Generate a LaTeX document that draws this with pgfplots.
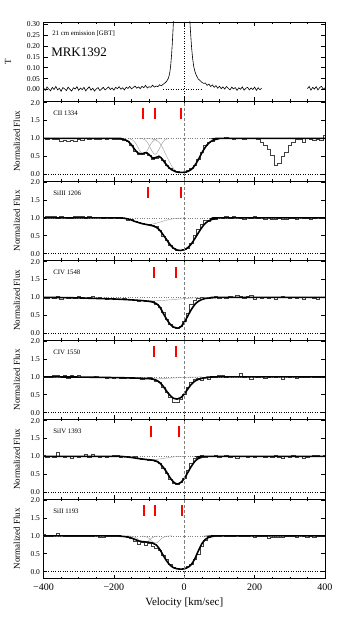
\documentclass[border=0pt]{standalone}
\usepackage{fontspec}
\setmainfont{Liberation Serif}
\usepackage{pgfplots}
\pgfplotsset{compat=1.18}

\pgfplotsset{
  panel/.style={
    scale only axis, width=281.5pt, height=79.5pt, anchor=south west,
    xmin=-400, xmax=400, xtick={-400,-200,0,200,400}, minor x tick num=3,
    xticklabels={},
    ymin=-0.19, ymax=2.03, ytick={0,0.5,1,1.5,2},
    /pgf/number format/assume math mode=true,
    yticklabel style={font=\fontsize{7.5}{8}\selectfont,
      /pgf/number format/.cd, fixed, fixed zerofill, precision=1},
    xticklabel style={font=\fontsize{10}{11}\selectfont, yshift=-2pt},
    axis line style={line width=0.8pt},
    tick style={line width=0.6pt, black},
    major tick length=4pt, minor tick length=2pt,
    ylabel={Normalized Flux},
    ylabel style={at={(axis description cs:-0.095,0.5)}, anchor=center,
      font=\fontsize{9}{10}\selectfont},
  },
  hist/.style={const plot mark mid, black!75, line width=0.45pt},
  model/.style={black, line width=1.6pt, smooth},
  comp/.style={gray!80, line width=0.4pt, smooth},
  vmark/.style={red, line width=2pt},
  zline/.style={gray, line width=0.5pt, dash pattern=on 3pt off 2pt},
}
\tikzset{lbl/.style={anchor=west, font=\fontsize{6.8}{7}\selectfont}}

\begin{document}
\begin{tikzpicture}
\useasboundingbox (0,0) rectangle (346pt,623pt);

% ---------------- 21 cm emission
\begin{axis}[panel, at={(43.5pt,521.5pt)},
  ymin=-0.055, ymax=0.31, ytick={0,0.05,0.1,0.15,0.2,0.25,0.3},
  yticklabel style={/pgf/number format/.cd, fixed, fixed zerofill, precision=2},
  ylabel={T}, ylabel style={at={(axis description cs:-0.126,0.5)}}]
\addplot[black, dotted, line width=0.5pt] coordinates {(-60,0) (50,0)};
\addplot[black, dotted, line width=0.5pt] coordinates {(0,-0.055) (0,0.31)};
\addplot[black, line width=0.6pt] coordinates {
(-400,0.008) (-395,-0.004) (-390,0.012) (-385,0.002) (-380,-0.006) (-375,0.010)
(-370,0.000) (-365,0.014) (-360,-0.002) (-355,0.006) (-350,-0.008) (-345,0.009)
(-340,0.003) (-335,-0.005) (-330,0.011) (-325,0.001) (-320,-0.007) (-315,0.008)
(-310,0.002) (-305,0.013) (-300,-0.004) (-295,0.007) (-290,-0.001) (-285,0.010)
(-280,-0.006) (-275,0.004) (-270,0.012) (-265,-0.003) (-260,0.006) (-255,-0.007)
(-250,0.003) (-245,0.009) (-240,-0.005) (-235,0.002) (-230,0.010) (-225,-0.002)
(-220,0.005) (-215,0.012) (-210,0.000) (-205,0.007) (-200,-0.003) (-195,0.010)
(-190,0.004) (-185,0.013) (-180,0.001) (-175,0.008) (-170,-0.002) (-165,0.011)
(-160,0.005) (-155,0.014) (-150,0.003) (-145,0.009) (-140,0.016) (-135,0.006)
(-130,0.012) (-125,0.004) (-120,0.015) (-115,0.008) (-110,0.019) (-105,0.007)
(-100,0.013) (-95,0.010) (-90,0.020) (-85,0.011) (-80,0.016) (-75,0.013)
(-70,0.022) (-65,0.017) (-60,0.024) (-55,0.030) (-50,0.038) (-45,0.052)
(-42,0.07) (-40,0.09) (-38,0.12) (-36,0.16) (-34,0.21) (-32,0.27) (-30,0.34)
(-25,0.55) (-20,0.80) (-10,1.10) (0,1.10) (8,0.70) (12,0.46) (15,0.34)
(18,0.26) (21,0.19) (24,0.14) (27,0.105) (30,0.085) (33,0.07) (36,0.06) (40,0.048)
(45,0.041) (50,0.033) (55,0.028) (60,0.030) (65,0.019) (70,0.025) (75,0.014)
(80,0.021) (85,0.010) (90,0.018) (95,0.006) (100,0.015) (105,0.004) (110,0.012)
(115,0.002) (120,0.014) (125,0.006) (130,-0.002) (135,0.011) (140,0.003)
(145,0.009) (150,-0.004) (155,0.008) (160,0.001) (165,0.012) (170,-0.003)
(175,0.006) (180,0.010) (185,-0.002) (190,0.007) (195,0.000) (200,0.011)
(205,-0.004) (210,0.008) (215,-0.001) (220,0.006)
};
\addplot[black, line width=0.6pt] coordinates {
(350,0.004) (355,0.014) (360,-0.003) (365,0.010) (370,0.002) (375,0.013)
(380,-0.002) (385,0.009) (390,0.015) (395,0.001) (400,0.008)
};
\node[anchor=west, font=\fontsize{6.8}{7}\selectfont] at (axis cs:-385,0.258) {21 cm emission [GBT]};
\node[anchor=west, font=\fontsize{13}{14}\selectfont] at (axis cs:-388,0.17) {MRK1392};
\end{axis}

% ---------------- CII 1334
\begin{axis}[panel, at={(43.5pt,442pt)}]
\addplot[gray, dotted] coordinates {(-400,1) (400,1)};
\addplot[black, dotted] coordinates {(-400,0) (400,0)};
\addplot[comp] coordinates {(-156,0.99) (-146,0.95) (-136,0.83) (-126,0.65) (-116,0.55) (-106,0.65) (-96,0.83) (-86,0.95) (-76,0.99) (-66,1)};
\addplot[comp] coordinates {(-128,1) (-119,0.99) (-110,0.95) (-101,0.83) (-92,0.65) (-83,0.55) (-74,0.65) (-65,0.83) (-56,0.95) (-47,0.99)};
\addplot[comp] coordinates {(-110,1) (-90,0.98) (-75,0.92) (-65,0.8) (-55,0.6) (-45,0.4) (-35,0.22) (-25,0.1)};
\addplot[hist] coordinates {
(-400,1.00) (-390,0.98) (-380,1.00) (-370,0.99) (-360,0.97) (-350,0.93) (-340,0.95)
(-330,0.92) (-320,0.96) (-310,0.93) (-300,0.98) (-290,0.94) (-280,1.00) (-270,0.97)
(-260,1.01) (-250,0.99) (-240,0.98) (-230,1.00) (-220,0.99) (-210,1.00) (-200,0.99)
(-190,0.99) (-180,0.98) (-170,0.96) (-160,0.91) (-150,0.80) (-140,0.64) (-130,0.56)
(-120,0.55) (-110,0.60) (-100,0.52) (-90,0.42) (-80,0.44) (-70,0.48) (-60,0.40)
(-50,0.26) (-40,0.17) (-30,0.10) (-20,0.07) (-10,0.05) (0,0.06) (10,0.12) (20,0.17)
(30,0.24) (40,0.42) (50,0.62) (60,0.80) (70,0.90) (80,0.93) (90,0.98) (100,1.01)
(110,1.00) (120,1.02) (130,1.00) (140,0.99) (150,1.00) (160,1.00) (170,0.99)
(180,1.00) (190,1.01) (200,1.00) (210,0.98) (220,0.90) (230,0.82) (240,0.70)
(250,0.52) (260,0.26) (270,0.32) (280,0.50) (290,0.62) (300,0.80) (310,0.88)
(320,0.98) (330,0.99) (340,0.90) (350,1.00) (360,0.97) (370,0.96) (380,0.98)
(390,0.95) (400,1.08)
};
\addplot[model] coordinates {
(-400,1) (-200,1) (-180,0.99) (-170,0.97) (-160,0.92) (-150,0.82) (-140,0.68)
(-130,0.58) (-120,0.57) (-110,0.60) (-100,0.55) (-90,0.45) (-80,0.47) (-72,0.50)
(-65,0.45) (-55,0.32) (-45,0.20) (-35,0.12) (-25,0.07) (-15,0.05) (-5,0.05)
(5,0.06) (15,0.10) (25,0.18) (35,0.32) (45,0.50) (55,0.68) (65,0.82) (75,0.91)
(85,0.96) (95,0.985) (110,1) (400,1)
};
\addplot[vmark] coordinates {(-116,1.55) (-116,1.85)};
\addplot[vmark] coordinates {(-83,1.55) (-83,1.85)};
\addplot[vmark] coordinates {(-9,1.55) (-9,1.85)};
\addplot[zline] coordinates {(0,-0.19) (0,2.03)};
\node[lbl] at (axis cs:-382,1.69) {CII 1334};
\end{axis}

% ---------------- SiIII 1206
\begin{axis}[panel, at={(43.5pt,362.5pt)}]
\addplot[gray, dotted] coordinates {(-400,1) (400,1)};
\addplot[black, dotted] coordinates {(-400,0) (400,0)};
\addplot[comp] coordinates {(-200,1) (-170,0.98) (-150,0.93) (-130,0.86) (-104,0.81) (-80,0.85) (-60,0.91) (-40,0.96) (-20,0.985) (0,1)};
\addplot[hist] coordinates {
(-400,1.03) (-390,1.06) (-380,1.05) (-370,1.04) (-360,1.00) (-350,1.04) (-340,1.03)
(-330,0.98) (-320,1.00) (-310,1.05) (-300,1.06) (-290,1.04) (-280,1.00) (-270,1.04)
(-260,1.01) (-250,1.02) (-240,1.02) (-230,1.00) (-220,1.01) (-210,0.99) (-200,1.02)
(-190,1.00) (-180,0.99) (-170,0.99) (-160,0.93) (-150,0.96) (-140,0.91) (-130,0.88)
(-120,0.85) (-110,0.82) (-100,0.82) (-90,0.79) (-80,0.76) (-70,0.66) (-60,0.50)
(-50,0.37) (-40,0.24) (-30,0.15) (-20,0.11) (-10,0.10) (0,0.12) (10,0.16) (20,0.30)
(30,0.52) (40,0.68) (50,0.82) (60,0.94) (70,0.92) (80,1.00) (90,0.96) (100,1.02)
(110,1.00) (120,1.04) (130,0.99) (140,1.04) (150,1.03) (160,1.00) (170,0.96)
(180,1.03) (190,1.00) (200,1.04) (210,0.99) (220,1.03) (230,0.97) (240,1.02)
(250,0.95) (260,0.97) (270,0.99) (280,0.95) (290,0.97) (300,1.00) (310,0.98)
(320,0.95) (330,1.01) (340,0.98) (350,0.99) (360,0.96) (370,0.99) (380,1.02)
(390,0.99) (400,1.00)
};
\addplot[model] coordinates {
(-400,1) (-200,1) (-170,0.99) (-160,0.97) (-150,0.94) (-140,0.90) (-130,0.87)
(-120,0.84) (-110,0.82) (-100,0.80) (-90,0.78) (-80,0.74) (-70,0.66) (-60,0.53)
(-50,0.39) (-40,0.25) (-30,0.15) (-20,0.10) (-10,0.09) (0,0.11) (10,0.17)
(20,0.27) (30,0.42) (40,0.58) (50,0.73) (60,0.85) (70,0.92) (80,0.96) (90,0.985)
(100,1) (400,1)
};
\addplot[vmark] coordinates {(-104,1.55) (-104,1.85)};
\addplot[vmark] coordinates {(-10,1.55) (-10,1.85)};
\addplot[zline] coordinates {(0,-0.19) (0,2.03)};
\node[lbl] at (axis cs:-382,1.69) {SiIII 1206};
\end{axis}

% ---------------- CIV 1548
\begin{axis}[panel, at={(43.5pt,283pt)}]
\addplot[gray, dotted] coordinates {(-400,1) (400,1)};
\addplot[black, dotted] coordinates {(-400,0) (400,0)};
\addplot[comp] coordinates {(-350,0.995) (-300,0.985) (-250,0.97) (-200,0.955) (-150,0.93) (-100,0.91) (-87,0.905) (-60,0.915) (-30,0.94) (0,0.965) (30,0.985) (60,0.995) (100,1)};
\addplot[hist] coordinates {
(-400,0.98) (-390,0.97) (-380,1.00) (-370,0.99) (-360,1.02) (-350,0.96) (-340,1.00)
(-330,0.97) (-320,1.01) (-310,0.99) (-300,1.03) (-290,1.01) (-280,0.97) (-270,1.00)
(-260,1.02) (-250,0.98) (-240,1.01) (-230,0.98) (-220,0.96) (-210,0.98) (-200,0.97)
(-190,0.96) (-180,0.95) (-170,0.97) (-160,0.94) (-150,0.96) (-140,0.93) (-130,0.90)
(-120,0.93) (-110,0.90) (-100,0.89) (-90,0.88) (-80,0.82) (-70,0.72) (-60,0.58)
(-50,0.40) (-40,0.26) (-30,0.17) (-20,0.15) (-10,0.20) (0,0.33) (10,0.55) (20,0.80)
(30,0.92) (40,0.98) (50,1.00) (60,0.97) (70,0.98) (80,1.00) (90,1.02) (100,0.99)
(110,1.00) (120,0.97) (130,1.03) (140,1.00) (150,1.07) (160,1.02) (170,0.99)
(180,1.02) (190,1.05) (200,0.96) (210,1.01) (220,0.99) (230,1.01) (240,0.99)
(250,1.00) (260,0.96) (270,1.00) (280,1.02) (290,1.00) (300,0.98) (310,1.01)
(320,0.99) (330,1.00) (340,0.95) (350,1.00) (360,1.01) (370,0.99) (380,0.95)
(390,1.00) (400,1.00)
};
\addplot[model] coordinates {
(-400,1) (-350,0.995) (-300,0.985) (-250,0.97) (-200,0.955) (-150,0.93)
(-120,0.91) (-100,0.89) (-90,0.87) (-80,0.83) (-70,0.74) (-60,0.56) (-50,0.39)
(-40,0.25) (-30,0.17) (-20,0.14) (-10,0.18) (0,0.30) (10,0.48) (20,0.66)
(30,0.80) (40,0.89) (50,0.94) (60,0.97) (80,0.99) (100,1) (400,1)
};
\addplot[vmark] coordinates {(-87,1.55) (-87,1.85)};
\addplot[vmark] coordinates {(-23,1.55) (-23,1.85)};
\addplot[zline] coordinates {(0,-0.19) (0,2.03)};
\node[lbl] at (axis cs:-382,1.69) {CIV 1548};
\end{axis}

% ---------------- CIV 1550
\begin{axis}[panel, at={(43.5pt,203.5pt)}]
\addplot[gray, dotted] coordinates {(-400,1) (400,1)};
\addplot[black, dotted] coordinates {(-400,0) (400,0)};
\addplot[comp] coordinates {(-300,0.997) (-200,0.985) (-150,0.975) (-100,0.96) (-87,0.955) (-50,0.96) (-20,0.975) (10,0.99) (50,1)};
\addplot[hist] coordinates {
(-400,1.00) (-390,0.99) (-380,1.00) (-370,1.06) (-360,1.05) (-350,1.02) (-340,1.05)
(-330,0.95) (-320,1.05) (-310,1.01) (-300,1.06) (-290,1.00) (-280,0.99) (-270,1.00)
(-260,0.98) (-250,1.01) (-240,1.00) (-230,0.99) (-220,0.97) (-210,0.98) (-200,0.97)
(-190,0.99) (-180,0.96) (-170,0.97) (-160,0.98) (-150,0.96) (-140,0.95) (-130,0.97)
(-120,0.94) (-110,0.97) (-100,1.00) (-90,0.94) (-80,0.88) (-70,0.84) (-60,0.72)
(-50,0.56) (-40,0.44) (-30,0.30) (-20,0.28) (-10,0.38) (0,0.52) (10,0.70) (20,0.84)
(30,0.94) (40,0.96) (50,0.91) (60,0.98) (70,0.93) (80,0.99) (90,1.00) (100,1.04)
(110,1.04) (120,0.98) (130,1.02) (140,1.01) (150,1.03) (160,1.10) (170,1.00)
(180,1.03) (190,0.94) (200,1.02) (210,1.00) (220,1.02) (230,0.96) (240,1.00)
(250,1.03) (260,0.98) (270,1.01) (280,0.93) (290,1.02) (300,0.99) (310,1.01)
(320,0.97) (330,0.99) (340,1.00) (350,0.98) (360,1.01) (370,0.99) (380,1.00)
(390,0.98) (400,1.00)
};
\addplot[model] coordinates {
(-400,1) (-300,0.995) (-200,0.98) (-150,0.97) (-120,0.96) (-100,0.95) (-90,0.94)
(-80,0.91) (-70,0.85) (-60,0.74) (-50,0.60) (-40,0.48) (-30,0.40) (-20,0.38)
(-10,0.42) (0,0.52) (10,0.66) (20,0.79) (30,0.88) (40,0.93) (50,0.96) (70,0.985)
(100,1) (400,1)
};
\addplot[vmark] coordinates {(-87,1.55) (-87,1.85)};
\addplot[vmark] coordinates {(-23,1.55) (-23,1.85)};
\addplot[zline] coordinates {(0,-0.19) (0,2.03)};
\node[lbl] at (axis cs:-382,1.69) {CIV 1550};
\end{axis}

% ---------------- SiIV 1393
\begin{axis}[panel, at={(43.5pt,124pt)}]
\addplot[gray, dotted] coordinates {(-400,1) (400,1)};
\addplot[black, dotted] coordinates {(-400,0) (400,0)};
\addplot[comp] coordinates {(-180,1) (-150,0.98) (-130,0.95) (-110,0.915) (-94,0.905) (-75,0.92) (-55,0.95) (-35,0.98) (-15,0.995) (0,1)};
\addplot[hist] coordinates {
(-400,1.02) (-390,0.98) (-380,1.01) (-370,0.97) (-360,1.12) (-350,1.00) (-340,0.98)
(-330,1.00) (-320,0.96) (-310,1.01) (-300,0.99) (-290,1.00) (-280,1.07) (-270,0.97)
(-260,1.05) (-250,1.00) (-240,0.99) (-230,1.00) (-220,0.98) (-210,1.00) (-200,1.03)
(-190,1.02) (-180,0.98) (-170,1.01) (-160,1.00) (-150,0.98) (-140,1.00) (-130,0.95)
(-120,0.93) (-110,0.92) (-100,0.90) (-90,0.90) (-80,0.86) (-70,0.80) (-60,0.68)
(-50,0.52) (-40,0.37) (-30,0.26) (-20,0.22) (-10,0.28) (0,0.40) (10,0.60) (20,0.82)
(30,0.95) (40,0.98) (50,1.02) (60,0.99) (70,1.01) (80,1.00) (90,1.02) (100,0.98)
(110,1.00) (120,1.03) (130,0.98) (140,1.00) (150,0.96) (160,1.01) (170,1.00)
(180,0.99) (190,1.00) (200,0.98) (210,1.00) (220,1.01) (230,0.97) (240,1.00)
(250,0.99) (260,1.02) (270,0.99) (280,0.96) (290,1.00) (300,0.98) (310,1.02)
(320,0.99) (330,1.00) (340,0.96) (350,0.98) (360,1.00) (370,1.02) (380,1.03)
(390,1.01) (400,1.04)
};
\addplot[model] coordinates {
(-400,1) (-200,1) (-170,0.99) (-150,0.97) (-130,0.94) (-110,0.915) (-100,0.905)
(-90,0.895) (-80,0.87) (-70,0.81) (-60,0.70) (-50,0.56) (-40,0.40) (-30,0.28)
(-20,0.23) (-10,0.27) (0,0.38) (10,0.55) (20,0.72) (30,0.86) (40,0.94) (50,0.98)
(70,1) (400,1)
};
\addplot[vmark] coordinates {(-94,1.55) (-94,1.85)};
\addplot[vmark] coordinates {(-16,1.55) (-16,1.85)};
\addplot[zline] coordinates {(0,-0.19) (0,2.03)};
\node[lbl] at (axis cs:-382,1.69) {SiIV 1393};
\end{axis}

% ---------------- SiII 1193
\begin{axis}[panel, at={(43.5pt,44.5pt)},
  xticklabels={−400,−200,0,200,400},
  xlabel={Velocity [km/sec]},
  xlabel style={font=\fontsize{11}{12}\selectfont, yshift=0pt}]
\addplot[gray, dotted] coordinates {(-400,1) (400,1)};
\addplot[black, dotted] coordinates {(-400,0) (400,0)};
\addplot[comp] coordinates {(-164,1) (-154,0.996) (-144,0.98) (-134,0.93) (-124,0.84) (-114,0.80) (-104,0.84) (-94,0.93) (-84,0.98) (-74,0.996)};
\addplot[comp] coordinates {(-118,0.996) (-109,0.98) (-100,0.93) (-91,0.84) (-82,0.80) (-73,0.84) (-64,0.93) (-55,0.98) (-46,0.996) (-36,1)};
\addplot[hist] coordinates {
(-400,1.04) (-390,0.99) (-380,1.00) (-370,1.03) (-360,1.07) (-350,1.02) (-340,1.00)
(-330,0.98) (-320,1.00) (-310,1.00) (-300,0.99) (-290,1.00) (-280,1.00) (-270,0.98)
(-260,0.99) (-250,1.02) (-240,0.95) (-230,0.97) (-220,0.99) (-210,1.00) (-200,0.99)
(-190,1.00) (-180,0.98) (-170,1.00) (-160,0.97) (-150,0.94) (-140,0.86) (-130,0.78)
(-120,0.82) (-110,0.75) (-100,0.80) (-90,0.72) (-80,0.66) (-70,0.60) (-60,0.46)
(-50,0.34) (-40,0.20) (-30,0.12) (-20,0.09) (-10,0.08) (0,0.10) (10,0.16) (20,0.22)
(30,0.34) (40,0.50) (50,0.70) (60,0.88) (70,0.95) (80,0.98) (90,1.00) (100,0.99)
(110,1.02) (120,1.00) (130,0.99) (140,1.00) (150,1.03) (160,1.00) (170,0.98)
(180,1.00) (190,1.01) (200,0.97) (210,1.00) (220,0.99) (230,1.00) (240,0.94)
(250,0.97) (260,0.95) (270,0.96) (280,0.95) (290,1.00) (300,0.99) (310,1.00)
(320,0.97) (330,1.01) (340,1.00) (350,0.96) (360,1.00) (370,0.97) (380,1.00)
(390,0.98) (400,1.00)
};
\addplot[model] coordinates {
(-400,1) (-200,1) (-180,0.99) (-160,0.97) (-150,0.94) (-140,0.90) (-130,0.86)
(-120,0.84) (-110,0.83) (-100,0.82) (-90,0.80) (-80,0.75) (-70,0.63) (-60,0.46)
(-50,0.30) (-40,0.18) (-30,0.11) (-20,0.08) (-10,0.07) (0,0.08) (10,0.12)
(20,0.20) (30,0.36) (40,0.58) (50,0.78) (60,0.90) (70,0.96) (80,0.985) (100,1)
(400,1)
};
\addplot[vmark] coordinates {(-114,1.55) (-114,1.85)};
\addplot[vmark] coordinates {(-82,1.55) (-82,1.85)};
\addplot[vmark] coordinates {(-7,1.55) (-7,1.85)};
\addplot[zline] coordinates {(0,-0.19) (0,2.03)};
\node[lbl] at (axis cs:-382,1.69) {SiII 1193};
\end{axis}
\end{tikzpicture}
\end{document}
